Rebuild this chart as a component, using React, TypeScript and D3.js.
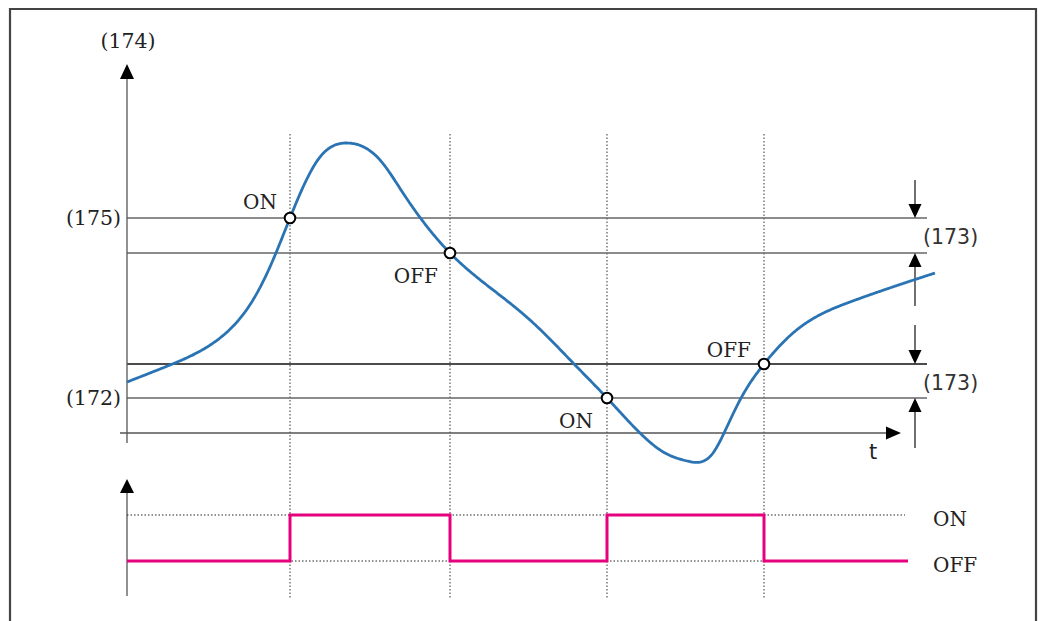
import React from "react";
import * as d3 from "d3";

// Process value curve (time units, level units)
const curveTimes = [0, 43, 93, 126, 146, 163, 193, 220, 253, 276, 323, 370, 403, 450, 480, 513, 538, 560, 586, 598, 613, 637, 666, 723, 808];
const curveValues = [51, 68, 95, 133, 173, 215, 276, 290, 273, 240, 180, 140, 113, 66, 35, 0, -20, -28, -20, 2, 33, 69, 100, 131, 160];

// Threshold levels (upper pair and lower pair)
const thresholdLevels = [215, 180, 69, 35];
const thresholdColors = ["#666", "#666", "#111", "#666"];

// Switching events
const switchTimes = [163, 323, 480, 637];
const switchLevels = [215, 180, 35, 69];
const switchLabels = ["ON", "OFF", "ON", "OFF"];
const switchStates = [1, 0, 1, 0];

// Axis / side labels
const leftLabels = ["(175)", "(172)"];
const leftLabelLevels = [215, 35];
const rightLabels = ["(173)", "(173)"];
const stateLabels = ["ON", "OFF"];

const SERIF = "'DejaVu Serif', serif";
const SANS = "'DejaVu Sans', sans-serif";

// natural cubic spline value(t) through the data points
function makeSpline(xs: number[], ys: number[]) {
  const n = xs.length;
  const h: number[] = [];
  for (let i = 0; i < n - 1; i++) h.push(xs[i + 1] - xs[i]);
  const a: number[] = new Array(n).fill(0);
  const b: number[] = new Array(n).fill(1);
  const c: number[] = new Array(n).fill(0);
  const r: number[] = new Array(n).fill(0);
  for (let i = 1; i < n - 1; i++) {
    a[i] = h[i - 1];
    b[i] = 2 * (h[i - 1] + h[i]);
    c[i] = h[i];
    r[i] = 6 * ((ys[i + 1] - ys[i]) / h[i] - (ys[i] - ys[i - 1]) / h[i - 1]);
  }
  const cp = new Array(n).fill(0);
  const rp = new Array(n).fill(0);
  cp[0] = c[0] / b[0];
  rp[0] = r[0] / b[0];
  for (let i = 1; i < n; i++) {
    const m = b[i] - a[i] * cp[i - 1];
    cp[i] = c[i] / m;
    rp[i] = (r[i] - a[i] * rp[i - 1]) / m;
  }
  const M = new Array(n).fill(0);
  M[n - 1] = rp[n - 1];
  for (let i = n - 2; i >= 0; i--) M[i] = rp[i] - cp[i] * M[i + 1];
  return (t: number) => {
    let i = d3.bisectRight(xs, t) - 1;
    i = Math.max(0, Math.min(n - 2, i));
    const hi = h[i];
    const A = (xs[i + 1] - t) / hi;
    const B = (t - xs[i]) / hi;
    return (
      A * ys[i] +
      B * ys[i + 1] +
      ((A * A * A - A) * M[i] + (B * B * B - B) * M[i + 1]) * (hi * hi) / 6
    );
  };
}

export default function App() {
  const x = d3.scaleLinear().domain([0, 800]).range([127, 927]);
  const y = d3.scaleLinear().domain([0, 370]).range([433, 63]);
  const yState = d3.scaleLinear().domain([0, 1]).range([561, 515]);

  const spline = makeSpline(curveTimes, curveValues);
  const tMax = curveTimes[curveTimes.length - 1];
  const pts: [number, number][] = d3.range(0, tMax + 0.5, 1).map((t) => [t, spline(t)]);
  const line = d3
    .line<[number, number]>()
    .x((d) => x(d[0]))
    .y((d) => y(d[1]));

  // Step data for switching state
  const stepPts: [number, number][] = [[0, 0]];
  switchTimes.forEach((t, i) => stepPts.push([t, switchStates[i]]));
  stepPts.push([781, 0]);
  const stepLine = d3
    .line<[number, number]>()
    .x((d) => x(d[0]))
    .y((d) => yState(d[1]))
    .curve(d3.curveStepAfter);

  const ax = 915;
  const arrowDown = (x0: number, y1: number, y0: number, key: string) => (
    <g key={key}>
      <line x1={x0} x2={x0} y1={y0} y2={y1 - 10} stroke="#111" strokeWidth={1.2} />
      <path d={`M${x0 - 6.5},${y1 - 14} L${x0 + 6.5},${y1 - 14} L${x0},${y1} Z`} fill="#000" />
    </g>
  );
  const arrowUp = (x0: number, y1: number, y0: number, key: string) => (
    <g key={key}>
      <line x1={x0} x2={x0} y1={y0} y2={y1 + 10} stroke="#111" strokeWidth={1.2} />
      <path d={`M${x0 - 6.5},${y1 + 14} L${x0 + 6.5},${y1 + 14} L${x0},${y1} Z`} fill="#000" />
    </g>
  );

  const labelPos = [
    { dx: -13, dy: -9, anchor: "end" },
    { dx: -12, dy: 30, anchor: "end" },
    { dx: -14, dy: 30, anchor: "end" },
    { dx: -13, dy: -7, anchor: "end" },
  ];

  return (
    <svg
      width={1038}
      height={621}
      style={{ position: "absolute", left: 0, top: 0, background: "#fff" }}
    >
      {/* frame */}
      <path d="M10,640 L10,9 L1036,9 L1036,640" fill="none" stroke="#444" strokeWidth={2.2} />

      {/* dotted switching guides */}
      {switchTimes.map((t, i) => (
        <line key={"v" + i} x1={x(t)} x2={x(t)} y1={134} y2={598} stroke="#333" strokeWidth={1} strokeDasharray="1.5,2" />
      ))}

      {/* thresholds */}
      {thresholdLevels.map((v, i) => (
        <line key={"h" + i} x1={x(0)} x2={927} y1={y(v)} y2={y(v)} stroke={thresholdColors[i]} strokeWidth={1.3} />
      ))}

      {/* y axis */}
      <line x1={x(0)} x2={x(0)} y1={443} y2={78} stroke="#555" strokeWidth={1.3} />
      <path d={`M${x(0) - 7},${79} L${x(0) + 7},${79} L${x(0)},${64} Z`} fill="#000" />
      {/* x axis */}
      <line x1={120} x2={888} y1={y(0)} y2={y(0)} stroke="#555" strokeWidth={1.3} />
      <path d={`M${886},${y(0) - 6.5} L${886},${y(0) + 6.5} L${901},${y(0)} Z`} fill="#000" />
      <text x={873} y={459} fontFamily={SANS} fontSize={21} textAnchor="middle" fill="#222">t</text>

      {/* y labels */}
      <text x={128} y={48} fontFamily={SERIF} fontSize={20.5} textAnchor="middle" fill="#222">(174)</text>
      {leftLabels.map((l, i) => (
        <text key={"l" + i} x={121} y={y(leftLabelLevels[i]) + 7} fontFamily={SERIF} fontSize={20.5} textAnchor="end" fill="#222">{l}</text>
      ))}

      {/* hysteresis arrows */}
      {arrowDown(ax, y(thresholdLevels[0]), 180, "a1")}
      {arrowUp(ax, y(thresholdLevels[1]), 306, "a2")}
      {arrowDown(ax, y(thresholdLevels[2]), 325, "a3")}
      {arrowUp(ax, y(thresholdLevels[3]), 448, "a4")}
      {rightLabels.map((l, i) => (
        <text key={"r" + i} x={923} y={i === 0 ? 244 : 390} fontFamily={SANS} fontSize={20.5} fill="#333">{l}</text>
      ))}

      {/* curve */}
      <path d={line(pts) || ""} fill="none" stroke="#2b74b4" strokeWidth={2.8} strokeLinejoin="round" />

      {/* switching points */}
      {switchTimes.map((t, i) => (
        <g key={"p" + i}>
          <circle cx={x(t)} cy={y(switchLevels[i])} r={5.3} fill="#fff" stroke="#000" strokeWidth={2} />
          <text
            x={x(t) + labelPos[i].dx}
            y={y(switchLevels[i]) + labelPos[i].dy}
            fontFamily={SERIF}
            fontSize={20}
            textAnchor={labelPos[i].anchor as any}
            fill="#222"
          >
            {switchLabels[i]}
          </text>
        </g>
      ))}

      {/* bottom switching chart */}
      <line x1={x(0)} x2={x(0)} y1={596} y2={492} stroke="#555" strokeWidth={1.3} />
      <path d={`M${x(0) - 7},${493} L${x(0) + 7},${493} L${x(0)},${479} Z`} fill="#000" />
      {[1, 0].map((s) => (
        <line key={"s" + s} x1={x(0)} x2={905} y1={yState(s)} y2={yState(s)} stroke="#222" strokeWidth={1} strokeDasharray="1.5,2" />
      ))}
      <path d={stepLine(stepPts) || ""} fill="none" stroke="#e6007e" strokeWidth={3} />
      {stateLabels.map((l, i) => (
        <text key={"sl" + i} x={933} y={yState(i === 0 ? 1 : 0) + 11} fontFamily={SERIF} fontSize={20} fill="#222">{l}</text>
      ))}
    </svg>
  );
}
